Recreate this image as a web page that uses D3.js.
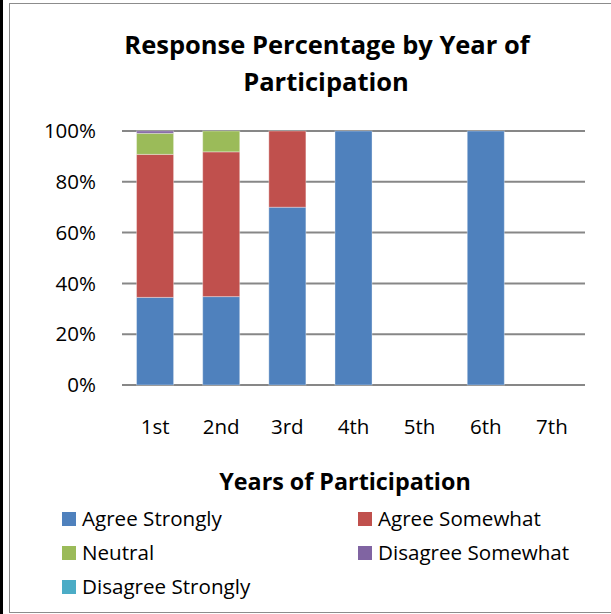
<!DOCTYPE html>
<html>
<head>
<meta charset="utf-8">
<script src="https://cdn.jsdelivr.net/npm/d3@7"></script>
<style>
  body { margin: 0; background: #fff; }
  svg { display: block; font-family: "Open Sans", sans-serif; }
</style>
</head>
<body>
<div class="canvas"></div>
<script>
// categories + series (percent of responses)
const years = ["1st", "2nd", "3rd", "4th", "5th", "6th", "7th"];
const seriesNames = ["Agree Strongly", "Agree Somewhat", "Neutral", "Disagree Somewhat", "Disagree Strongly"];
const agreeStrongly    = [34.5, 34.8, 70, 100, 0, 100, 0];
const agreeSomewhat    = [56.3, 57.0, 30, 0, 0, 0, 0];
const neutral          = [8.3, 8.2, 0, 0, 0, 0, 0];
const disagreeSomewhat = [0.9, 0, 0, 0, 0, 0, 0];
const disagreeStrongly = [0, 0, 0, 0, 0, 0, 0];
const yTicks = [0, 20, 40, 60, 80, 100];

const colors = ["#4f81bd", "#c0504d", "#9bbb59", "#8064a2", "#4bacc6"];

const table = years.map((y, i) => ({
  year: y,
  "Agree Strongly": agreeStrongly[i],
  "Agree Somewhat": agreeSomewhat[i],
  "Neutral": neutral[i],
  "Disagree Somewhat": disagreeSomewhat[i],
  "Disagree Strongly": disagreeStrongly[i]
}));

const svg = d3.select(".canvas")
  .append("svg")
    .attr("width", 611)
    .attr("height", 614);

// window edge + chart frame
svg.append("rect").attr("x", 0).attr("y", 0).attr("width", 3).attr("height", 614).attr("fill", "#000");
svg.append("rect")
  .attr("x", 9.5).attr("y", 3.5)
  .attr("width", 620).attr("height", 609)
  .attr("fill", "none").attr("stroke", "#8c8c8c").attr("stroke-width", 1);

// title
const title = svg.append("text")
  .attr("text-anchor", "middle")
  .attr("font-weight", "bold")
  .attr("font-size", 25.5)
  .attr("fill", "#000");
title.append("tspan").attr("x", 327).attr("y", 54).text("Response Percentage by Year of");
title.append("tspan").attr("x", 326).attr("y", 91).text("Participation");

const x = d3.scaleBand()
  .domain(years)
  .range([122, 585])
  .paddingInner(0.44)
  .paddingOuter(0.22);

const y = d3.scaleLinear()
  .domain([0, 100])
  .range([385, 131]);

// gridlines
svg.append("g")
  .selectAll("line")
  .data(yTicks)
  .join("line")
    .attr("x1", 122).attr("x2", 585)
    .attr("y1", d => y(d)).attr("y2", d => y(d))
    .attr("stroke", "#878787")
    .attr("stroke-width", 2);

// y tick labels
svg.append("g")
  .selectAll("text")
  .data(yTicks)
  .join("text")
    .attr("x", 96)
    .attr("y", d => y(d))
    .attr("dy", "0.35em")
    .attr("text-anchor", "end")
    .attr("font-size", 20.5)
    .text(d => d + "%");

// stacked bars
const stack = d3.stack().keys(seriesNames);
const layers = stack(table);

svg.append("g")
  .selectAll("g")
  .data(layers)
  .join("g")
    .attr("fill", (d, i) => colors[i])
  .selectAll("rect")
  .data(d => d.filter(s => s[1] - s[0] > 0))
  .join("rect")
    .attr("x", d => x(d.data.year))
    .attr("width", x.bandwidth())
    .attr("y", d => y(d[1]))
    .attr("height", d => y(d[0]) - y(d[1]))
    .attr("stroke", "#fff")
    .attr("stroke-opacity", 0.35)
    .attr("stroke-width", 1);

// x labels
svg.append("g")
  .selectAll("text")
  .data(years)
  .join("text")
    .attr("x", d => x(d) + x.bandwidth() / 2)
    .attr("y", 434)
    .attr("text-anchor", "middle")
    .attr("font-size", 20.5)
    .text(d => d);

// x axis title
svg.append("text")
  .attr("x", 345)
  .attr("y", 490)
  .attr("text-anchor", "middle")
  .attr("font-weight", "bold")
  .attr("font-size", 23.3)
  .text("Years of Participation");

// legend, two columns
const legend = svg.append("g")
  .selectAll("g")
  .data(seriesNames)
  .join("g")
    .attr("transform", (d, i) => `translate(${i % 2 ? 358 : 62}, ${526 + Math.floor(i / 2) * 34})`);

legend.append("rect")
  .attr("x", 0).attr("y", -14)
  .attr("width", 14).attr("height", 14)
  .attr("fill", (d, i) => colors[i]);

legend.append("text")
  .attr("x", 20)
  .attr("font-size", 20.6)
  .text(d => d);
</script>
</body>
</html>
